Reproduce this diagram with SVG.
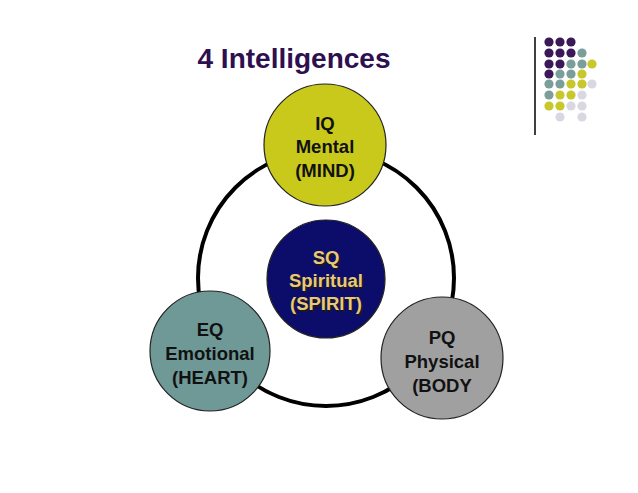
<svg xmlns="http://www.w3.org/2000/svg" width="638" height="493" viewBox="0 0 638 493">
<style>
.t{font-family:"Liberation Sans",Arial,sans-serif;font-weight:bold;font-size:18.5px;text-anchor:middle}
.node{stroke:#222;stroke-width:1.2}
.p{fill:#3b1858}.tl{fill:#7a9e9a}.y{fill:#c8c82a}.l{fill:#d8d8e2}
</style>
<rect width="638" height="493" fill="#fff"/>
<text x="294" y="68" font-family="'Liberation Sans',Arial,sans-serif" font-weight="bold" font-size="28" fill="#2e1050" text-anchor="middle">4 Intelligences</text>
<g id="deco">
<line x1="535" y1="37" x2="535" y2="135" stroke="#000" stroke-width="1.5"/>
<g>
<circle class="p" cx="549" cy="42" r="4.6"/><circle class="p" cx="560" cy="42" r="4.6"/><circle class="p" cx="571" cy="42" r="4.6"/>
<circle class="p" cx="549" cy="53" r="4.6"/><circle class="p" cx="560" cy="53" r="4.6"/><circle class="p" cx="571" cy="53" r="4.6"/><circle class="tl" cx="582" cy="53" r="4.6"/>
<circle class="p" cx="549" cy="64" r="4.6"/><circle class="p" cx="560" cy="64" r="4.6"/><circle class="tl" cx="571" cy="64" r="4.6"/><circle class="tl" cx="582" cy="64" r="4.6"/><circle class="y" cx="592" cy="64" r="4.6"/>
<circle class="p" cx="549" cy="74" r="4.6"/><circle class="tl" cx="560" cy="74" r="4.6"/><circle class="tl" cx="571" cy="74" r="4.6"/><circle class="y" cx="582" cy="74" r="4.6"/>
<circle class="tl" cx="549" cy="84" r="4.6"/><circle class="tl" cx="560" cy="84" r="4.6"/><circle class="y" cx="571" cy="84" r="4.6"/><circle class="y" cx="582" cy="84" r="4.6"/><circle class="l" cx="592" cy="84" r="4.6"/>
<circle class="tl" cx="549" cy="95" r="4.6"/><circle class="y" cx="560" cy="95" r="4.6"/><circle class="y" cx="571" cy="95" r="4.6"/><circle class="l" cx="582" cy="95" r="4.6"/>
<circle class="y" cx="549" cy="106" r="4.6"/><circle class="y" cx="560" cy="106" r="4.6"/><circle class="l" cx="571" cy="106" r="4.6"/><circle class="l" cx="582" cy="106" r="4.6"/>
<circle class="l" cx="560" cy="117" r="4.6"/><circle class="l" cx="582" cy="117" r="4.6"/>
</g>
</g>
<g id="connectors">
<circle cx="326" cy="278" r="128" fill="none" stroke="#000" stroke-width="4"/>
</g>
<g id="iq">
<circle class="node" cx="325" cy="145" r="61" fill="#c9c91c"/>
<text class="t" x="325" y="130" fill="#111">IQ</text>
<text class="t" x="325" y="153" fill="#111">Mental</text>
<text class="t" x="325" y="177" fill="#111">(MIND)</text>
</g>
<g id="sq">
<circle class="node" cx="326" cy="279" r="59" fill="#0c0c6a"/>
<g fill="#1a1a1a" transform="translate(1.5,1.5)">
<text class="t" x="326" y="264">SQ</text>
<text class="t" x="326" y="287">Spiritual</text>
<text class="t" x="326" y="310">(SPIRIT)</text>
</g>
<text class="t" x="326" y="264" fill="#e9c877">SQ</text>
<text class="t" x="326" y="287" fill="#e9c877">Spiritual</text>
<text class="t" x="326" y="310" fill="#e9c877">(SPIRIT)</text>
</g>
<g id="eq">
<circle class="node" cx="210" cy="351" r="60" fill="#6f9997"/>
<text class="t" x="210" y="336" fill="#111">EQ</text>
<text class="t" x="210" y="360" fill="#111">Emotional</text>
<text class="t" x="210" y="384" fill="#111">(HEART)</text>
</g>
<g id="pq">
<circle class="node" cx="442" cy="358" r="61" fill="#a0a0a0"/>
<text class="t" x="442" y="344" fill="#111">PQ</text>
<text class="t" x="442" y="368" fill="#111">Physical</text>
<text class="t" x="442" y="392" fill="#111">(BODY</text>
</g>
</svg>
